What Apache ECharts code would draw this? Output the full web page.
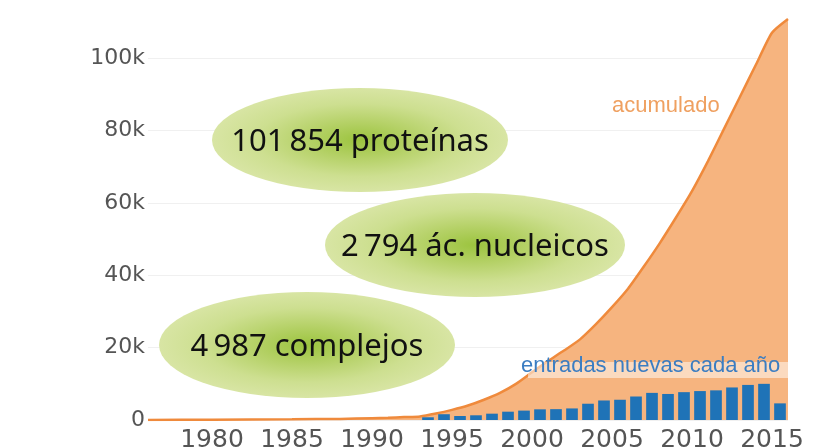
<!DOCTYPE html>
<html>
<head>
<meta charset="utf-8">
<style>
  html, body { margin: 0; padding: 0; background: #fff; }
  #main { width: 820px; height: 447px; }
</style>
<script src="https://cdn.jsdelivr.net/npm/echarts/dist/echarts.min.js"></script>
</head>
<body>
<div id="main"></div>
<script>
// entradas nuevas por año (barra ocupa el año)
var barYears = [1993, 1994, 1995, 1996, 1997, 1998, 1999, 2000, 2001, 2002, 2003, 2004,
    2005, 2006, 2007, 2008, 2009, 2010, 2011, 2012, 2013, 2014, 2015];
var newEntries = [750, 1600, 1100, 1300, 1750, 2300, 2600, 2950, 3000, 3200, 4500, 5400,
    5600, 6500, 7500, 7200, 7700, 8000, 8200, 9000, 9700, 10000, 4600];

// acumulado, al final de cada año
var cumX = [1976, 1980, 1985, 1988, 1990, 1991, 1992, 1993, 1994, 1995, 1996, 1997, 1998,
    1999, 2000, 2001, 2002, 2003, 2004, 2005, 2006, 2007, 2008, 2009, 2010, 2011, 2012,
    2013, 2014, 2015, 2016];
var cumValues = [0, 100, 200, 300, 500, 600, 800, 1000, 1800, 2800, 4000, 5600, 7500,
    10000, 13200, 16300, 19200, 22300, 26500, 31200, 36300, 42500, 49000, 56000, 63300,
    71600, 80500, 89400, 98300, 107100, 110900];

var xTickLabels = [1980, 1985, 1990, 1995, 2000, 2005, 2010, 2015];

var bubbles = [
    { text: '101\u2009854 proteínas', cx: 360, cy: 140, rx: 148, ry: 52 },
    { text: '2\u2009794 ác. nucleicos', cx: 475, cy: 245, rx: 150, ry: 52 },
    { text: '4\u2009987 complejos', cx: 307, cy: 345, rx: 148, ry: 53 }
];

var myChart = echarts.init(document.getElementById('main'));
var barW = 0.73;

var graphics = [];
bubbles.forEach(function (b) {
    graphics.push({
        type: 'circle',
        x: b.cx, y: b.cy,
        scaleX: b.rx / b.ry,
        shape: { cx: 0, cy: 0, r: b.ry },
        style: {
            fill: {
                type: 'radial', x: 0.5, y: 0.5, r: 0.5,
                colorStops: [
                    { offset: 0, color: '#9cc43f' },
                    { offset: 0.35, color: '#b5d167' },
                    { offset: 0.7, color: '#cddf90' },
                    { offset: 1, color: '#d8e5a4' }
                ]
            }
        },
        z: 10
    });
    graphics.push({
        type: 'text',
        x: b.cx, y: b.cy + 2,
        style: {
            text: b.text,
            fill: '#111',
            font: '31px "Noto Sans"',
            align: 'center',
            verticalAlign: 'middle'
        },
        z: 11
    });
});
// fondo claro bajo la etiqueta azul
graphics.push({
    type: 'rect',
    shape: { x: 528, y: 362, width: 260, height: 16 },
    style: { fill: 'rgba(255,255,255,0.5)' },
    z: 10
});
graphics.push({
    type: 'text', x: 521, y: 366,
    style: {
        text: 'entradas nuevas cada año', fill: '#3b7dc2',
        font: '22px "Liberation Sans"', verticalAlign: 'middle'
    },
    z: 11
});
graphics.push({
    type: 'text', x: 612, y: 106,
    style: {
        text: 'acumulado', fill: '#efa060',
        font: '22px "Liberation Sans"', verticalAlign: 'middle'
    },
    z: 11
});

var option = {
    animation: false,
    grid: { left: 148, right: 32, top: 15, bottom: 27, outerBoundsMode: 'none' },
    xAxis: {
        type: 'value',
        min: 1976,
        max: 2016,
        axisLine: { show: false },
        axisTick: { show: false },
        splitLine: { show: false },
        axisLabel: {
            customValues: xTickLabels,
            color: '#555',
            fontFamily: 'DejaVu Sans',
            fontSize: 25,
            margin: 8,
            formatter: function (v) { return String(v); }
        }
    },
    yAxis: {
        type: 'value',
        min: 0,
        max: 112000,
        interval: 20000,
        axisLine: { show: false },
        axisTick: { show: false },
        splitLine: { show: true, showMaxLine: false, lineStyle: { color: '#f0f0f0', width: 1 } },
        axisLabel: {
            showMaxLabel: false,
            color: '#555',
            fontFamily: 'DejaVu Sans',
            fontSize: 22,
            margin: 3,
            formatter: function (v) { return v === 0 ? '0' : (v / 1000) + 'k'; }
        }
    },
    graphic: graphics,
    series: [{
        type: 'line',
        data: cumX.map(function (x, i) { return [x, cumValues[i]]; }),
        symbol: 'none',
        smooth: 0.2,
        lineStyle: { color: '#ef8a3c', width: 2.5 },
        areaStyle: { color: '#f6b47f', opacity: 1 },
        z: 2
    }, {
        type: 'custom',
        data: barYears.map(function (y, i) { return [y, newEntries[i]]; }),
        renderItem: function (params, api) {
            var yr = api.value(0);
            var p0 = api.coord([yr + 0.5 - barW / 2, api.value(1)]);
            var p1 = api.coord([yr + 0.5 + barW / 2, 0]);
            return {
                type: 'rect',
                shape: { x: p0[0], y: p0[1], width: p1[0] - p0[0], height: p1[1] - p0[1] },
                style: { fill: '#1f73b7' }
            };
        },
        z: 3
    }]
};
myChart.setOption(option);
</script>
</body>
</html>
